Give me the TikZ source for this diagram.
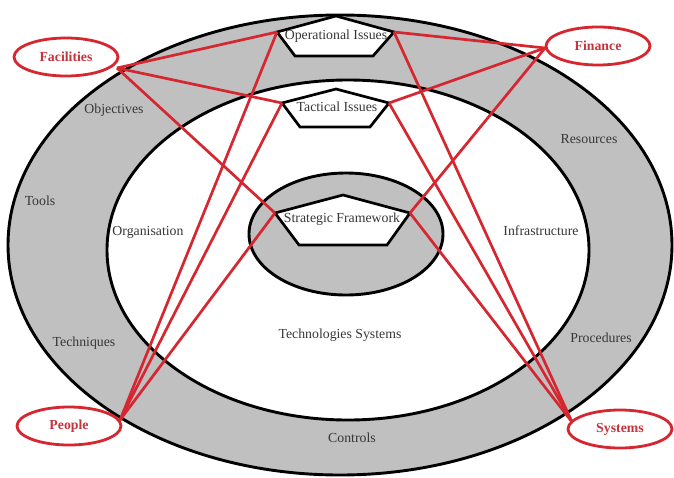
\documentclass[tikz,border=0pt]{standalone}
\usepackage{fontspec}
\setmainfont{Liberation Serif}
\usepackage{tikz}
\usetikzlibrary{shapes.geometric}

\definecolor{ringgray}{RGB}{192,192,192}
\definecolor{linkred}{RGB}{214,38,48}
\definecolor{labelred}{RGB}{196,52,62}
\definecolor{labelgray}{RGB}{55,55,55}

\begin{document}
\begin{tikzpicture}[x=1pt, y=-1pt,
    ring/.style = {draw, ellipse, line width=2.9pt, inner sep=0pt},
    issue/.style = {draw, fill=white, line width=2.7pt, line join=miter},
    link/.style = {draw=linkred, line width=2.7pt},
    actor/.style = {draw=linkred, ellipse, fill=white, line width=2.8pt, inner sep=0pt,
        minimum width=104pt, minimum height=38pt, text=labelred,
        font=\fontsize{13.8}{15}\selectfont\bfseries},
    word/.style = {text=labelgray, inner sep=1pt, font=\fontsize{13.8}{15}\selectfont}]
    \useasboundingbox (0,0) rectangle (674,477);

    \node[ring, fill=ringgray, minimum width=664pt, minimum height=460pt] (outer) at (340,245) {};
    \node[ring, fill=white, minimum width=482pt, minimum height=340pt] (middle) at (348,250) {};
    \node[ring, fill=ringgray, minimum width=194pt, minimum height=122pt] (inner) at (346,234) {};

    % issue pentagons
    \coordinate (op-t) at (336,16);
    \coordinate (op-r) at (394,32);
    \coordinate (op-br) at (373,56);
    \coordinate (op-bl) at (295,56);
    \coordinate (op-l) at (277,32);
    \coordinate (tac-t) at (336,89);
    \coordinate (tac-r) at (389,103);
    \coordinate (tac-br) at (370,127);
    \coordinate (tac-bl) at (300,127);
    \coordinate (tac-l) at (282,103);
    \coordinate (str-t) at (343,195);
    \coordinate (str-r) at (410,213);
    \coordinate (str-br) at (387,245);
    \coordinate (str-bl) at (299,245);
    \coordinate (str-l) at (275,213);

    \draw[issue] (op-t) -- (op-r) -- (op-br) -- (op-bl) -- (op-l) -- cycle;
    \draw[issue] (tac-t) -- (tac-r) -- (tac-br) -- (tac-bl) -- (tac-l) -- cycle;
    \draw[issue] (str-t) -- (str-r) -- (str-br) -- (str-bl) -- (str-l) -- cycle;

    \node[word] (op) at (336,36) {Operational Issues};
    \node[word] (tac) at (337,107) {Tactical Issues};
    \node[word] (str) at (342,219) {Strategic Framework};

    % ring labels
    \node[word] (obj) at (114,110) {Objectives};
    \node[word] (tools) at (40,201) {Tools};
    \node[word] (org) at (148,232) {Organisation};
    \node[word] (tech) at (84,343) {Techniques};
    \node[word] (techsys) at (340,335) {Technologies Systems};
    \node[word] (ctrl) at (352,438) {Controls};
    \node[word] (proc) at (601,338) {Procedures};
    \node[word] (infra) at (541,231) {Infrastructure};
    \node[word] (res) at (589,139) {Resources};

    % links
    \coordinate (fac-j) at (117,68);
    \coordinate (fin-j) at (545,48);
    \coordinate (peo-j) at (120,420);
    \coordinate (sys-j) at (572,422);

    \draw[link] (fac-j) -- (op-l);
    \draw[link] (fac-j) -- (tac-l);
    \draw[link] (fac-j) -- (str-l);
    \draw[link] (fin-j) -- (op-r);
    \draw[link] (fin-j) -- (tac-r);
    \draw[link] (fin-j) -- (str-r);
    \draw[link] (peo-j) -- (op-l);
    \draw[link] (peo-j) -- (tac-l);
    \draw[link] (peo-j) -- (str-l);
    \draw[link] (sys-j) -- (op-r);
    \draw[link] (sys-j) -- (tac-r);
    \draw[link] (sys-j) -- (str-r);

    \node[actor] (fac) at (66,57) {Facilities};
    \node[actor] (fin) at (598,46) {Finance};
    \node[actor] (peo) at (69,426) {People};
    \node[actor] (sys) at (620,429) {Systems};
\end{tikzpicture}
\end{document}
